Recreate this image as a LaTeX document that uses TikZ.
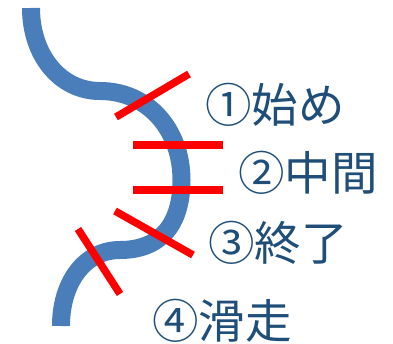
\documentclass[tikz,border=0pt]{standalone}
\usepackage{fontspec}
\newfontfamily\jpfont{Noto Sans CJK JP}
\definecolor{curveblue}{HTML}{4A7EBB}
\definecolor{textblue}{HTML}{1F4E79}
\begin{document}
\begin{tikzpicture}[x=1pt,y=-1pt,
  track/.style={draw=curveblue,line width=18pt},
  mark line/.style={draw=red,line width=7.5pt},
  label text/.style={anchor=west,inner sep=0pt,text=textblue,font=\jpfont\fontsize{46.5}{50}\selectfont}]
\useasboundingbox (0,0) rectangle (393,344);
\coordinate (s0) at (31,8);
\coordinate (s1) at (100,91);
\coordinate (s2) at (181.5,180);
\coordinate (s3) at (120,250);
\coordinate (s4) at (61,326);
\draw[track] (s0) .. controls (31,55) and (60,91) .. (s1)
  .. controls (148,91) and (181.5,130) .. (s2)
  .. controls (181.5,225) and (160,250) .. (s3)
  .. controls (85,250) and (61,282) .. (s4);
\coordinate (r1a) at (116,117); \coordinate (r1b) at (189,74);
\coordinate (r2a) at (133,145); \coordinate (r2b) at (223,145);
\coordinate (r3a) at (133,190); \coordinate (r3b) at (223,190);
\coordinate (r4a) at (115,211); \coordinate (r4b) at (193,255);
\coordinate (r5a) at (78,229); \coordinate (r5b) at (120,294);
\draw[mark line] (r1a) -- (r1b);
\draw[mark line] (r2a) -- (r2b);
\draw[mark line] (r3a) -- (r3b);
\draw[mark line] (r4a) -- (r4b);
\draw[mark line] (r5a) -- (r5b);
\node[label text] (t1) at (205,105) {①始め};
\node[label text] (t2) at (238,173) {②中間};
\node[label text] (t3) at (208,243) {③終了};
\node[label text] (t4) at (152,321) {④滑走};
\end{tikzpicture}
\end{document}
